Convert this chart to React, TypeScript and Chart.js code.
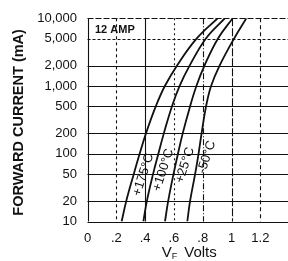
import React, { useEffect, useRef } from 'react';
import { Chart, registerables } from 'chart.js';

Chart.register(...registerables);

// Forward current (mA) sample points
const currents = [10, 20, 50, 100, 200, 500, 1000, 2000, 5000, 10000];
// Forward voltage (V) for each temperature at the currents above
const v175 = [0.237, 0.269, 0.321, 0.362, 0.406, 0.474, 0.537, 0.621, 0.757, 0.903];
const v100 = [0.388, 0.412, 0.455, 0.492, 0.53, 0.586, 0.639, 0.709, 0.821, 0.953];
const v25 = [0.538, 0.56, 0.597, 0.628, 0.661, 0.712, 0.756, 0.812, 0.905, 1.008];
const vm50 = [0.693, 0.712, 0.747, 0.771, 0.792, 0.823, 0.858, 0.917, 1.017, 1.103];

const seriesLabels = ['+175°C', '+100°C', '+25°C', '-50°C'];
const labelVolts = [0.3875, 0.526, 0.677, 0.828];
const labelCurrents = [48.8, 57.5, 67.8, 89];

const xTicks = [0, 0.2, 0.4, 0.6, 0.8, 1, 1.2];
const xTickLabels = ['0', '.2', '.4', '.6', '.8', '1', '1.2'];
const yTicks = [10, 20, 50, 100, 200, 500, 1000, 2000, 5000, 10000];
const yTickLabels = ['10', '20', '50', '100', '200', '500', '1,000', '2,000', '5,000', '10,000'];

const chartTitle = '12 AMP';
const yTitle = 'FORWARD CURRENT (mA)';

const FONT = '"Liberation Sans", Arial, sans-serif';
const INK = '#111111';

// dash patterns for grid lines (styles only)
const xGridDash: number[][] = [[], [3, 3], [], [2, 3], [6, 2, 1, 2], [8, 2], [4, 3]];
const yGridDash: number[][] = [[], [], [], [], [], [], [], [], [3, 2], [6, 2]];

const decor = {
  id: 'decor',
  beforeDatasetsDraw(chart: any) {
    const { ctx, chartArea: ca, scales } = chart;
    const xs = scales.x;
    const ys = scales.y;
    ctx.save();
    ctx.strokeStyle = INK;
    ctx.lineWidth = 1.1;
    xTicks.forEach((v, i) => {
      const px = Math.round(xs.getPixelForValue(v)) + 0.5;
      ctx.setLineDash(xGridDash[i]);
      ctx.beginPath();
      ctx.moveTo(px, ca.top);
      ctx.lineTo(px, ca.bottom);
      ctx.stroke();
    });
    yTicks.forEach((v, i) => {
      const py = Math.round(ys.getPixelForValue(v)) + 0.5;
      ctx.setLineDash(yGridDash[i]);
      ctx.beginPath();
      ctx.moveTo(ca.left, py);
      ctx.lineTo(ca.right, py);
      ctx.stroke();
    });
    ctx.restore();
  },
  afterDatasetsDraw(chart: any) {
    const { ctx, chartArea: ca, scales } = chart;
    const xs = scales.x;
    const ys = scales.y;
    ctx.save();
    ctx.fillStyle = INK;
    // curve labels
    ctx.font = `13px ${FONT}`;
    ctx.textAlign = 'center';
    ctx.textBaseline = 'middle';
    seriesLabels.forEach((t, i) => {
      const px = xs.getPixelForValue(labelVolts[i]);
      const py = ys.getPixelForValue(labelCurrents[i]);
      ctx.save();
      ctx.translate(px, py);
      ctx.rotate((-72 * Math.PI) / 180);
      ctx.fillText(t, 0, 0);
      ctx.restore();
    });
    // chart title inside plot
    ctx.font = `bold 11px ${FONT}`;
    ctx.textAlign = 'left';
    ctx.textBaseline = 'alphabetic';
    ctx.fillText(chartTitle, ca.left + 7.5, ca.top + 14.5);
    // y title
    ctx.save();
    ctx.font = `bold 14.5px ${FONT}`;
    ctx.translate(22.5, (ca.top + ca.bottom) / 2 + 2.5);
    ctx.rotate(-Math.PI / 2);
    ctx.textAlign = 'center';
    ctx.fillText(yTitle, 0, 0);
    ctx.restore();
    // x title: V_F Volts
    const big = `15px ${FONT}`;
    const small = `9px ${FONT}`;
    ctx.font = big;
    const wV = ctx.measureText('V').width;
    const wVolts = ctx.measureText('Volts').width;
    ctx.font = small;
    const wF = ctx.measureText('F').width;
    const gap = 7;
    const total = wV + wF + gap + wVolts;
    let x0 = (ca.left + ca.right) / 2 + 1.5 - total / 2;
    const base = 256.5;
    ctx.font = big;
    ctx.fillText('V', x0, base);
    x0 += wV;
    ctx.font = small;
    ctx.fillText('F', x0, base + 2.5);
    x0 += wF + gap;
    ctx.font = big;
    ctx.fillText('Volts', x0, base);
    ctx.restore();
  },
};

export default function App() {
  const ref = useRef<HTMLCanvasElement | null>(null);
  useEffect(() => {
    if (!ref.current) return;
    const mk = (vals: number[]) => currents.map((c, i) => ({ x: vals[i], y: c }));
    const ds = (vals: number[], label: string) => ({
      label,
      data: mk(vals),
      borderColor: INK,
      backgroundColor: INK,
      borderWidth: 1.8,
      pointRadius: 0,
      showLine: true,
      fill: false,
      tension: 0.4,
    });
    const chart = new Chart(ref.current, {
      type: 'line',
      data: {
        datasets: [
          ds(v175, seriesLabels[0]),
          ds(v100, seriesLabels[1]),
          ds(v25, seriesLabels[2]),
          ds(vm50, seriesLabels[3]),
        ],
      },
      options: {
        animation: false,
        responsive: false,
        events: [],
        layout: { padding: { top: 11.5, left: 0, right: 0, bottom: 0 } },
        plugins: { legend: { display: false }, tooltip: { enabled: false } },
        scales: {
          x: {
            type: 'linear',
            min: 0,
            max: 1.392,
            grid: { display: false, drawTicks: false },
            border: { display: false },
            afterBuildTicks: (s: any) => {
              s.ticks = xTicks.map((v) => ({ value: v }));
            },
            afterFit: (s: any) => {
              s.height = 39.5;
            },
            ticks: {
              padding: 9,
              color: INK,
              font: { family: FONT, size: 13 },
              maxRotation: 0,
              autoSkip: false,
              callback: (v: any) => xTickLabels[xTicks.indexOf(Number(v))] ?? '',
            },
          },
          y: {
            type: 'logarithmic',
            min: 10,
            max: 10000,
            grid: { display: false, drawTicks: false },
            border: { display: false },
            afterBuildTicks: (s: any) => {
              s.ticks = yTicks.map((v) => ({ value: v }));
            },
            afterFit: (s: any) => {
              s.width = 87.5;
            },
            ticks: {
              padding: 10.5,
              color: INK,
              font: { family: FONT, size: 13 },
              autoSkip: false,
              callback: (v: any) => yTickLabels[yTicks.indexOf(Number(v))] ?? '',
            },
          },
        },
      },
      plugins: [decor],
    });
    return () => chart.destroy();
  }, []);
  return (
    <div style={{ position: 'fixed', left: 0, top: 0, width: 288, height: 261, background: '#fff' }}>
      <canvas ref={ref} width={288} height={261} style={{ width: 288, height: 261, display: 'block' }} />
    </div>
  );
}
